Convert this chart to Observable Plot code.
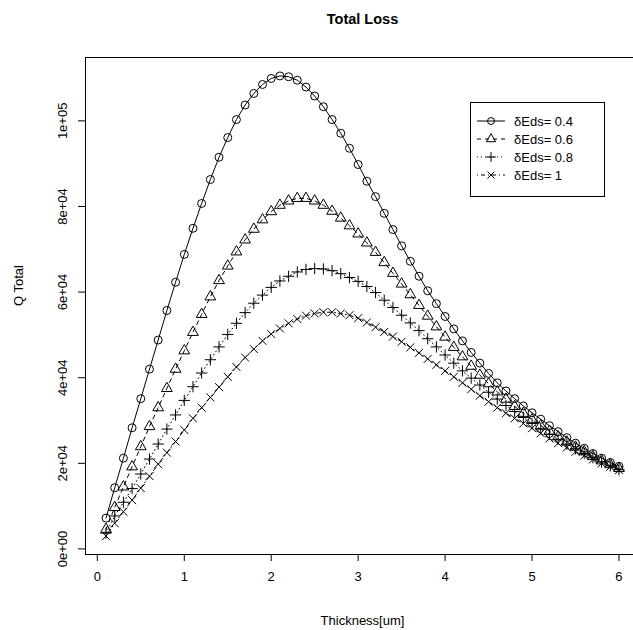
<!DOCTYPE html>
<html><head><meta charset="utf-8">
<script src="https://cdn.jsdelivr.net/npm/d3@7"></script>
<script src="https://cdn.jsdelivr.net/npm/@observablehq/plot@0.6"></script>
<style>
html,body{margin:0;padding:0;background:#fff;}
#chart svg{overflow:hidden;display:block;}
</style>
</head><body><div id="chart"></div>
<script>
const thickness = [0.1,0.2,0.3,0.4,0.5,0.6,0.7,0.8,0.9,1.0,1.1,1.2,1.3,1.4,1.5,1.6,1.7,1.8,1.9,2.0,
  2.1,2.2,2.3,2.4,2.5,2.6,2.7,2.8,2.9,3.0,3.1,3.2,3.3,3.4,3.5,3.6,3.7,3.8,3.9,4.0,
  4.1,4.2,4.3,4.4,4.5,4.6,4.7,4.8,4.9,5.0,5.1,5.2,5.3,5.4,5.5,5.6,5.7,5.8,5.9,6.0];
const qDelta04 = [7200,14300,21200,28300,35100,42000,48800,55700,62300,68800,74900,80700,86300,91500,96100,100300,103700,106400,108500,109900,
  110500,110300,109500,107900,105800,103300,100300,97100,93600,89800,85900,82300,78400,74600,70800,67200,63700,60300,57300,54300,
  51400,48600,45900,43400,41000,38800,36900,35100,33400,31800,30300,28800,27400,26000,24700,23500,22300,21200,20200,19300];
const qDelta06 = [4600,9700,14500,19200,23900,28600,33000,37500,42000,46300,50600,54800,58900,62700,66100,69400,72200,74700,76900,78800,
  80300,81300,81900,81900,81300,80300,78900,77300,75500,73600,71500,69300,66900,64400,61900,59400,56900,54400,51900,49500,
  47100,44900,42700,40600,38600,36700,35000,33300,31700,30200,28800,27500,26200,25000,23800,22700,21600,20600,19700,18800];
const qDelta08 = [3700,7700,10900,14100,17500,21000,24500,28000,31300,34700,37900,41100,44200,47200,50100,52700,55200,57400,59300,61100,
  62600,63700,64700,65300,65500,65400,65000,64300,63400,62500,61300,59900,58100,56400,54600,52800,51000,49100,47200,45300,
  43400,41600,39900,38300,36600,35000,33500,32100,30700,29300,28000,26800,25600,24500,23400,22300,21300,20300,19400,18500];
const qDelta10 = [3000,6000,8700,11400,14200,17000,19800,22500,25100,27800,30500,33000,35400,37800,40200,42500,44700,46700,48600,50200,
  51500,52700,53700,54500,55000,55300,55300,55000,54600,53900,52900,51800,50700,49600,48400,47100,45800,44400,43000,41600,
  40200,38800,37300,35800,34400,33000,31700,30500,29300,28200,27000,25800,24700,23700,22700,21800,20900,20000,19200,18400];
const seriesLabels = ["δEds= 0.4","δEds= 0.6","δEds= 0.8","δEds= 1"];
const xTicks = [0,1,2,3,4,5,6];
const yTicks = [0,20000,40000,60000,80000,100000];
const yTickLabels = ["0e+00","2e+04","4e+04","6e+04","8e+04","1e+05"];
const titleText = "Total Loss";
const xTitle = "Thickness[um]";
const yTitle = "Q Total";

// R-style plotting symbols (pch 1,2,3,4)
function rSym(kind){
  return {draw(ctx, size){
    const s = Math.sqrt(size/Math.PI);
    if(kind===1){ ctx.moveTo(s,0); ctx.arc(0,0,s,0,2*Math.PI); }
    else if(kind===2){ const r=1.5551*s, yc=0.7775*s, xc=1.3468*s;
      ctx.moveTo(0,-r); ctx.lineTo(xc,yc); ctx.lineTo(-xc,yc); ctx.closePath(); }
    else if(kind===3){ const h=Math.SQRT2*s; ctx.moveTo(-h,0); ctx.lineTo(h,0); ctx.moveTo(0,-h); ctx.lineTo(0,h); }
    else { ctx.moveTo(-s,-s); ctx.lineTo(s,s); ctx.moveTo(s,-s); ctx.lineTo(-s,s); }
  }};
}
const seriesValues = [qDelta04,qDelta06,qDelta08,qDelta10];
const symbols = [rSym(1),rSym(2),rSym(3),rSym(4)];
const dashes = ["none","4,4","1,3","1,3,4,3"];

const rows = [];
seriesValues.forEach((vals,i)=>vals.forEach((v,j)=>rows.push({series:seriesLabels[i], idx:i, x:thickness[j], y:v})));

const [x0,x1] = d3.extent(thickness);
const allY = seriesValues.flat();
const [y0,y1] = d3.extent(allY);
const xd = [x0-(x1-x0)*0.04, x1+(x1-x0)*0.04];
const yd = [y0-(y1-y0)*0.04, y1+(y1-y0)*0.04];

const font = "'Liberation Sans', Arial, Helvetica, sans-serif";
const marks = [Plot.frame({stroke:"black", strokeWidth:1})];
seriesValues.forEach((vals,i)=>{
  const d = rows.filter(r=>r.idx===i);
  marks.push(Plot.line(d,{x:"x",y:"y",stroke:"black",strokeWidth:1,strokeDasharray:dashes[i]}));
  marks.push(Plot.dot(d,{x:"x",y:"y",symbol:symbols[i],r:4,fill:"none",stroke:"black",strokeWidth:1}));
});
marks.push(Plot.axisX({ticks:xTicks, tickSize:7, tickPadding:10, fontSize:13, tickFormat:d=>String(d), label:null}));
marks.push(Plot.axisY({ticks:yTicks, tickSize:7, tickPadding:12, tickRotate:-90, fontSize:13,
  tickFormat:d=>yTickLabels[yTicks.indexOf(d)], label:null}));
marks.push(Plot.text([titleText],{frameAnchor:"top", dy:-44, fontSize:14.5, fontWeight:"bold", text:d=>d}));
marks.push(Plot.text([xTitle],{frameAnchor:"bottom", dy:70, fontSize:13, text:d=>d}));
marks.push(Plot.text([yTitle],{frameAnchor:"left", dx:-67, rotate:-90, fontSize:13, text:d=>d}));

const plot = Plot.plot({
  width:633, height:630,
  marginLeft:85, marginTop:57, marginBottom:76, marginRight:-6,
  style:{fontFamily:font, color:"black", background:"white"},
  x:{domain:xd}, y:{domain:yd},
  marks
});
document.getElementById("chart").appendChild(plot);

// legend (R-style box)
const svg = d3.select(plot);
const lg = svg.append("g").attr("font-family",font).attr("font-size",13).attr("text-anchor","start");
const bx=470, by=102, bw=134, bh=94, rowH=18, firstRow=121;
lg.append("rect").attr("x",bx+0.5).attr("y",by+0.5).attr("width",bw).attr("height",bh).attr("fill","white").attr("stroke","black");
seriesLabels.forEach((lab,i)=>{
  const yy = firstRow + i*rowH;
  lg.append("line").attr("x1",bx+7).attr("x2",bx+35).attr("y1",yy).attr("y2",yy)
    .attr("stroke","black").attr("stroke-dasharray",dashes[i]);
  lg.append("path").attr("d",d3.symbol(symbols[i], Math.PI*12)()).attr("transform",`translate(${bx+21},${yy})`)
    .attr("fill","none").attr("stroke","black");
  lg.append("text").attr("x",bx+44).attr("y",yy).attr("dy","0.35em").attr("text-anchor","start").text(lab);
});
</script>
</body></html>
